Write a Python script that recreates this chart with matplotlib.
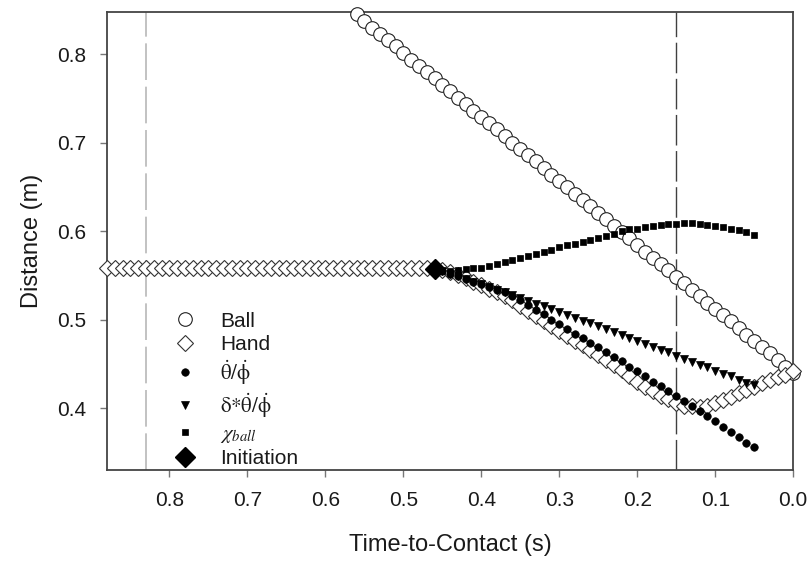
import numpy as np
import matplotlib
matplotlib.use("Agg")
import matplotlib.pyplot as plt

plt.rcParams['font.family'] = ['Liberation Sans', 'DejaVu Sans']
plt.rcParams['mathtext.fontset'] = 'stix'

# ---- data ----
ball_start = 0.56
ball = [0.845, 0.838, 0.830, 0.823, 0.816, 0.809, 0.802, 0.794, 0.787, 0.780,
        0.773, 0.765, 0.758, 0.751, 0.744, 0.736, 0.729, 0.722, 0.715, 0.708,
        0.700, 0.693, 0.686, 0.679, 0.671, 0.664, 0.657, 0.650, 0.642, 0.635,
        0.628, 0.621, 0.614, 0.606, 0.599, 0.592, 0.585, 0.577, 0.570, 0.563,
        0.556, 0.548, 0.541, 0.534, 0.527, 0.519, 0.512, 0.505, 0.498, 0.491,
        0.483, 0.476, 0.469, 0.462, 0.454, 0.447, 0.440]

hand_start = 0.88
hand = [0.558, 0.558, 0.558, 0.558, 0.558, 0.558, 0.558, 0.558, 0.558, 0.558,
        0.558, 0.558, 0.558, 0.558, 0.558, 0.558, 0.558, 0.558, 0.558, 0.558,
        0.558, 0.558, 0.558, 0.558, 0.558, 0.558, 0.558, 0.558, 0.558, 0.558,
        0.558, 0.558, 0.558, 0.558, 0.558, 0.558, 0.558, 0.558, 0.558, 0.558,
        0.558, 0.558,  # 0.88 .. 0.47
        0.558,         # 0.46
        0.556, 0.554, 0.551, 0.547, 0.543, 0.539, 0.535, 0.531, 0.527, 0.522,
        0.516, 0.510, 0.504, 0.499, 0.493, 0.487, 0.482, 0.476, 0.471, 0.466,
        0.460, 0.455, 0.449, 0.443, 0.436, 0.430, 0.424, 0.419, 0.414, 0.410,
        0.406, 0.403, 0.402, 0.401, 0.403, 0.406, 0.409, 0.413, 0.417, 0.420,
        0.424, 0.428, 0.432, 0.435, 0.438, 0.442]

model_start = 0.46
theta_phi = [0.557, 0.555, 0.552, 0.549, 0.546, 0.543, 0.540, 0.537, 0.534, 0.531,
             0.527, 0.522, 0.517, 0.511, 0.506, 0.500, 0.495, 0.489, 0.484, 0.479,
             0.474, 0.469, 0.464, 0.458, 0.453, 0.447, 0.442, 0.436, 0.430, 0.425,
             0.419, 0.414, 0.408, 0.402, 0.397, 0.391, 0.385, 0.379, 0.373, 0.367,
             0.361, 0.356]
delta_theta_phi = [0.557, 0.555, 0.552, 0.549, 0.546, 0.543, 0.540, 0.537, 0.534, 0.531,
                   0.528, 0.524, 0.521, 0.518, 0.515, 0.512, 0.509, 0.505, 0.502, 0.499,
                   0.496, 0.493, 0.489, 0.486, 0.483, 0.479, 0.476, 0.473, 0.469, 0.466,
                   0.463, 0.459, 0.456, 0.452, 0.449, 0.446, 0.442, 0.439, 0.436, 0.432,
                   0.429, 0.426]
chi_ball = [0.556, 0.555, 0.555, 0.556, 0.557, 0.558, 0.559, 0.561, 0.563, 0.565,
            0.567, 0.570, 0.572, 0.574, 0.577, 0.579, 0.582, 0.584, 0.586, 0.588,
            0.590, 0.592, 0.595, 0.597, 0.600, 0.602, 0.603, 0.605, 0.606, 0.607,
            0.608, 0.608, 0.609, 0.609, 0.608, 0.607, 0.606, 0.605, 0.603, 0.601,
            0.599, 0.596]

initiation_t = [0.46]
initiation_d = [0.557]

vline_grey = 0.83
vline_dark = 0.15

xticks = [0.8, 0.7, 0.6, 0.5, 0.4, 0.3, 0.2, 0.1, 0.0]
yticks = [0.4, 0.5, 0.6, 0.7, 0.8]


def times(start, n):
    return np.round(start - 0.01 * np.arange(n), 2)


fig = plt.figure(figsize=(8.11, 5.63), dpi=100)
ax = fig.add_axes([0.132, 0.165, 0.846, 0.814])

ax.axvline(vline_grey, color='#b8b8b8', lw=1.2, dashes=(22, 4), zorder=1)
ax.axvline(vline_dark, color='#404040', lw=1.0, dashes=(22, 4), zorder=1)

ax.plot(times(ball_start, len(ball)), ball, ls='none', marker='o', ms=9.8,
        mfc='white', mec='#222222', mew=0.8, clip_on=False, zorder=3, label='Ball')
ax.plot(times(hand_start, len(hand)), hand, ls='none', marker='D', ms=8.2,
        mfc='white', mec='#333333', mew=0.8, clip_on=False, zorder=4, label='Hand')
ax.plot(times(model_start, len(theta_phi)), theta_phi, ls='none', marker='o', ms=5.4,
        mfc='black', mec='black', mew=0.5, clip_on=False, zorder=5,
        label=r'$\dot{\mathrm{\theta}}/\dot{\mathrm{\phi}}$')
ax.plot(times(model_start, len(delta_theta_phi)), delta_theta_phi, ls='none', marker='v',
        ms=5.8, mfc='black', mec='black', mew=0.5, clip_on=False, zorder=6,
        label=r'$\mathrm{\delta{*}\dot{\theta}/\dot{\phi}}$')
ax.plot(times(model_start, len(chi_ball)), chi_ball, ls='none', marker='s', ms=5.0,
        mfc='black', mec='black', mew=0.5, clip_on=False, zorder=7,
        label=r'$\chi_{ball}$')
ax.plot(initiation_t, initiation_d, ls='none', marker='D', ms=10,
        mfc='black', mec='black', clip_on=False, zorder=8, label='Initiation')

ax.set_xlim(0.88, 0.0)
ax.set_ylim(0.33, 0.848)
ax.set_xticks(xticks)
ax.set_xticklabels([f'{v:.1f}' for v in xticks])
ax.set_yticks(yticks)
ax.set_yticklabels([f'{v:.1f}' for v in yticks])

for s in ax.spines.values():
    s.set_color('#444444')
    s.set_linewidth(1.3)
ax.tick_params(direction='out', length=5, width=1.0, color='#777777',
               labelsize=15, pad=10, labelcolor='#1a1a1a')

ax.set_xlabel('Time-to-Contact (s)', fontsize=17, color='#1a1a1a', labelpad=17)
ax.set_ylabel('Distance (m)', fontsize=17, color='#1a1a1a', labelpad=10)

leg = ax.legend(loc='lower left', bbox_to_anchor=(0.086, 0.0), frameon=False,
                fontsize=15, handlelength=1.6, handletextpad=0.9,
                labelspacing=0.2, borderpad=0.1, borderaxespad=0.0, numpoints=1)
for t in leg.get_texts():
    t.set_color('#1a1a1a')

fig.savefig('out.png', dpi=100, facecolor='white')
